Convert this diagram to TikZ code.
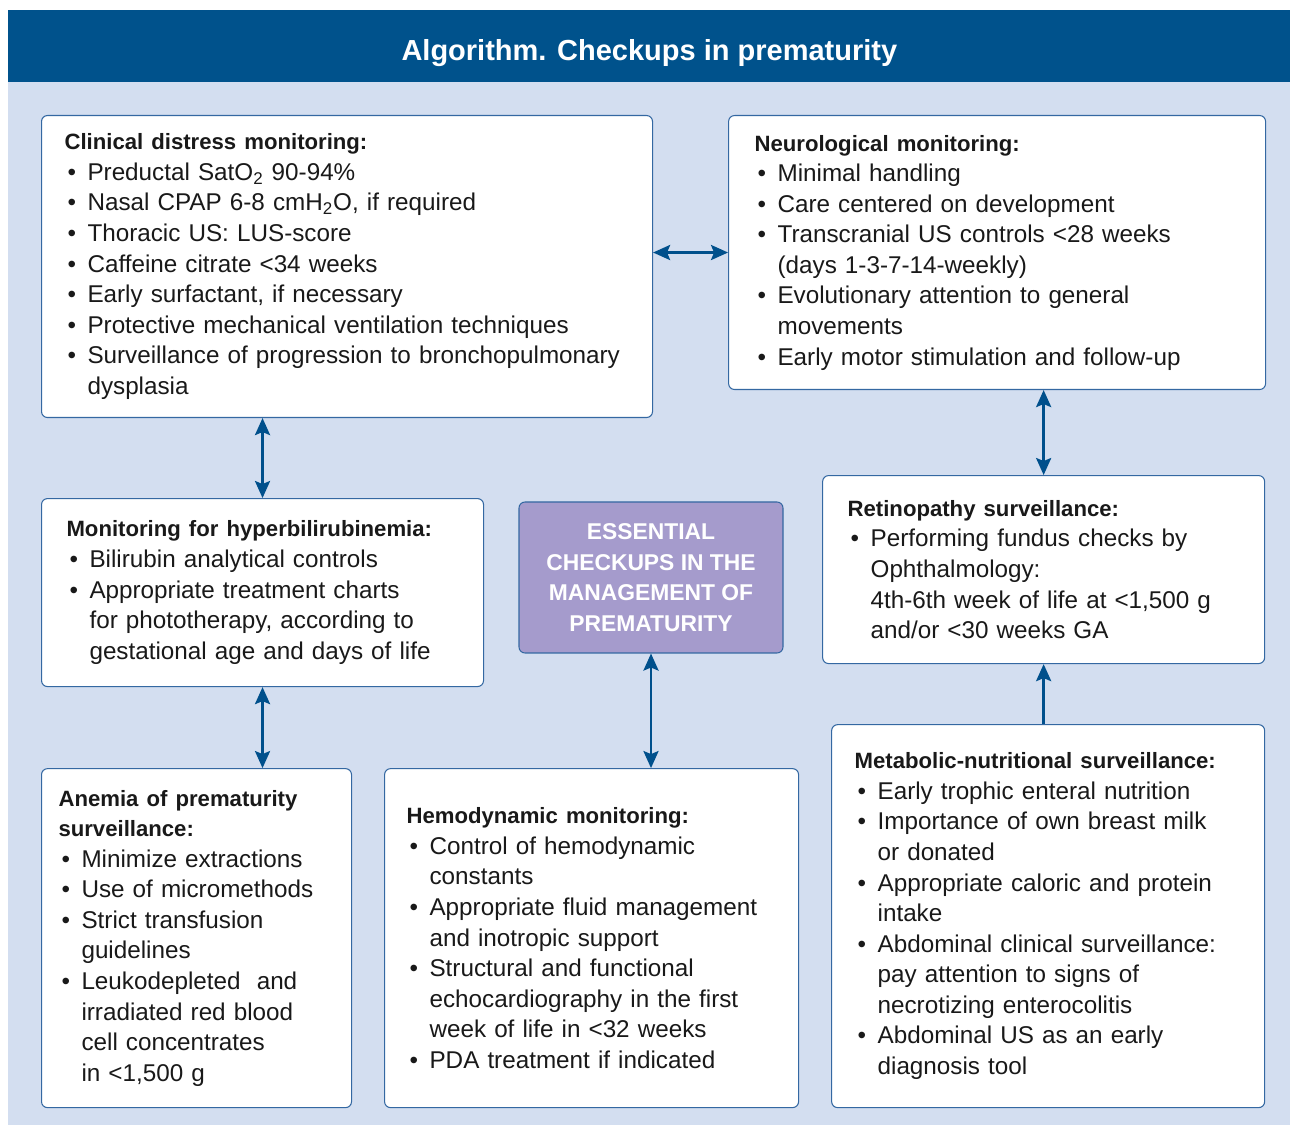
\documentclass[tikz,border=0pt]{standalone}
\usepackage{fontspec}
\setmainfont{Liberation Sans}
\usetikzlibrary{positioning, arrows.meta}

\definecolor{barblue}{RGB}{0,82,140}
\definecolor{bgblue}{RGB}{211,222,240}
\definecolor{lineblue}{RGB}{52,104,162}
\definecolor{arrowblue}{RGB}{0,80,140}
\definecolor{corepurple}{RGB}{165,155,204}
\definecolor{textgray}{RGB}{25,25,25}

\newcommand{\boxhead}[1]{\noindent{\fontsize{12.6}{17.4}\bfseries\selectfont #1}\par}
\newcommand{\itm}{\par\hangindent=0.46cm\hangafter=1\noindent\hbox to 0.46cm{\hspace{0.06cm}\textbullet\hfil}}

\begin{document}
\begin{tikzpicture}[
  >={Stealth[length=3.4mm,width=3mm,inset=0.6mm]},
  box/.style={rectangle, draw=lineblue, line width=0.6pt, fill=white, rounded corners=0.12cm,
    align=left, inner xsep=0.46cm, inner ysep=0pt, text=textgray,
    font=\fontsize{13.8}{17.4}\selectfont},
  core/.style={rectangle, draw=lineblue, line width=0.6pt, fill=corepurple, rounded corners=0.12cm,
    align=center, text=white, minimum width=5.28cm, minimum height=3.02cm,
    font=\fontsize{13}{17.4}\bfseries\selectfont},
  arrow/.style={<->, line width=1.6pt, draw=arrowblue},
  uparrow/.style={->, line width=1.6pt, draw=arrowblue}
]
\useasboundingbox (0,0) rectangle (25.8,-22.5);

% Background and title
\fill[bgblue] (0.16,-1.64) rectangle (25.8,-22.5);
\node[fill=barblue, minimum width=25.64cm, minimum height=1.44cm, inner sep=0, anchor=north west,
  text height=16.5pt, text depth=0pt,
  text=white, font=\fontsize{16.5}{20}\bfseries\selectfont] (title) at (0.16,-0.2)
  {Algorithm. Checkups in prematurity};

% Nodes
\node[box, anchor=north west, minimum width=12.22cm, minimum height=6.04cm, text width=11.3cm] (clin) at (0.82,-2.30) {%
\boxhead{Clinical distress monitoring:}
\itm Preductal SatO\textsubscript{2} 90-94\%
\itm Nasal CPAP 6-8 cmH\textsubscript{2}O, if required
\itm Thoracic US: LUS-score
\itm Caffeine citrate <34 weeks
\itm Early surfactant, if necessary
\itm Protective mechanical ventilation techniques
\itm Surveillance of progression to bronchopulmonary\newline dysplasia\par};

\node[box, anchor=north west, inner xsep=0.52cm, minimum width=10.74cm, minimum height=5.48cm, text width=9.7cm] (neuro) at ([xshift=1.5cm]clin.north east) {%
\boxhead{Neurological monitoring:}
\itm Minimal handling
\itm Care centered on development
\itm Transcranial US controls <28 weeks\newline (days 1-3-7-14-weekly)
\itm Evolutionary attention to general\newline movements
\itm Early motor stimulation and follow-up\par};

\node[box, below=1.6cm of clin.south west, anchor=north west, inner xsep=0.5cm, minimum width=8.84cm, minimum height=3.76cm, text width=7.84cm] (hyper) {%
\boxhead{Monitoring for hyperbilirubinemia:}
\itm Bilirubin analytical controls
\itm Appropriate treatment charts\newline for phototherapy, according to\newline gestational age and days of life\par};

\node[box, below=1.62cm of hyper.south west, anchor=north west, inner xsep=0.34cm, minimum width=6.2cm, minimum height=6.78cm, text width=5.52cm] (anemia) {%
\boxhead{Anemia of prematurity\newline surveillance:}
\itm Minimize extractions
\itm Use of micromethods
\itm Strict transfusion\newline guidelines
\itm Leukodepleted\ \ and\newline irradiated red blood\newline cell concentrates\newline in <1,500 g\par};

\node[box, right=0.64cm of anemia.north east, anchor=north west, inner xsep=0.44cm, minimum width=8.28cm, minimum height=6.78cm, text width=7.4cm] (hemo) {%
\boxhead{Hemodynamic monitoring:}
\itm Control of hemodynamic\newline constants
\itm Appropriate fluid management\newline and inotropic support
\itm Structural and functional\newline echocardiography in the first\newline week of life in <32 weeks
\itm PDA treatment if indicated\par};

\node[box, right=0.64cm of hemo.south east, anchor=south west, minimum width=8.66cm, minimum height=7.66cm, text width=7.74cm] (metab) {%
\boxhead{Metabolic-nutritional surveillance:}
\itm Early trophic enteral nutrition
\itm Importance of own breast milk\newline or donated
\itm Appropriate caloric and protein\newline intake
\itm Abdominal clinical surveillance:\newline pay attention to signs of\newline necrotizing enterocolitis
\itm Abdominal US as an early\newline diagnosis tool\par};

\node[box, above=1.2cm of metab.north east, anchor=south east, inner xsep=0.5cm, minimum width=8.84cm, minimum height=3.76cm, text width=7.84cm] (retino) {%
\boxhead{Retinopathy surveillance:}
\itm Performing fundus checks by\newline Ophthalmology:\newline 4th-6th week of life at <1,500 g\newline and/or <30 weeks GA\par};

\node[core] (ess) at (13.02,-11.55) {ESSENTIAL\\CHECKUPS IN THE\\MANAGEMENT OF\\PREMATURITY};

% Arrows
\draw[arrow] (clin.east |- neuro.west) -- (neuro.west);
\draw[arrow] (hyper.north |- clin.south) -- (hyper.north);
\draw[arrow] (hyper.south) -- (hyper.south |- anemia.north);
\draw[arrow] (ess.south) -- (ess.south |- hemo.north);
\draw[arrow] (retino.north |- neuro.south) -- (retino.north);
\draw[uparrow] (retino.south |- metab.north) -- (retino.south);

\end{tikzpicture}
\end{document}
